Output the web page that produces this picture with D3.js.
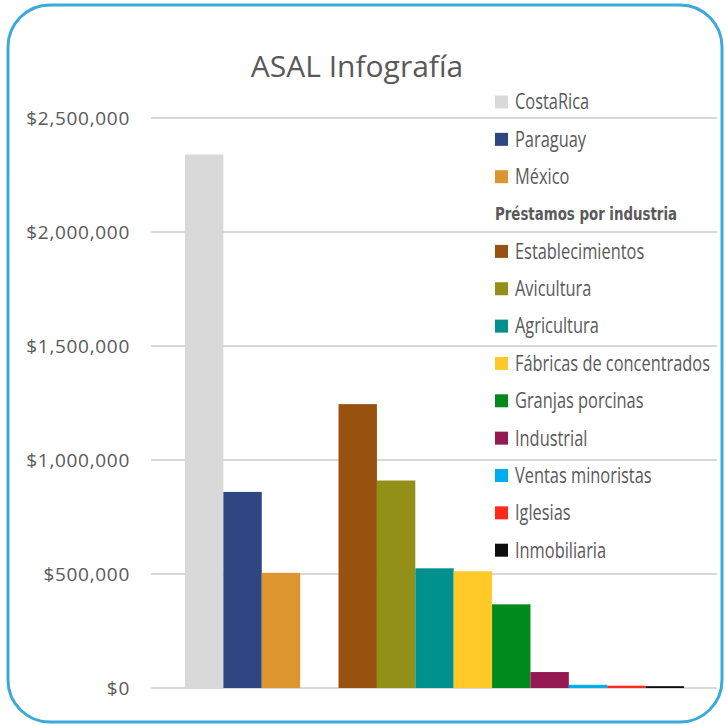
<!DOCTYPE html>
<html><head><meta charset="utf-8">
<script src="https://cdn.jsdelivr.net/npm/d3@7"></script>
<style>body{margin:0;background:#fff}svg{display:block}</style>
</head><body>
<script>
const countries = ["CostaRica","Paraguay","México"];
const countryValues = [2340000, 860000, 505000];
const countryColors = ["#d9d9d9","#2e4682","#dd9530"];
const industries = ["Establecimientos","Avicultura","Agricultura","Fábricas de concentrados","Granjas porcinas","Industrial","Ventas minoristas","Iglesias","Inmobiliaria"];
const industryValues = [1245000, 910000, 525000, 512000, 367000, 70000, 14000, 10000, 8000];
const industryColors = ["#97520f","#939019","#00918f","#ffca28","#008a1c","#951a51","#00aeef","#ff2a1a","#0d0d0d"];
const yTicks = [0, 500000, 1000000, 1500000, 2000000, 2500000];
const title = "ASAL Infografía";
const legendHeading = "Préstamos por industria";

const W = 726, H = 725;
const svg = d3.select("body").append("svg").attr("width", W).attr("height", H);

svg.append("rect").attr("x", 8).attr("y", 5).attr("width", 714).attr("height", 717)
  .attr("rx", 42).attr("ry", 42).attr("fill", "#fff").attr("stroke", "#3ca9dd").attr("stroke-width", 3);

const y = d3.scaleLinear().domain([0, 2500000]).range([688, 118]);

const bars = [];
countries.forEach((c, i) => bars.push({name: c, value: countryValues[i], color: countryColors[i], slot: i}));
industries.forEach((c, i) => bars.push({name: c, value: industryValues[i], color: industryColors[i], slot: i + 4}));

const x = d3.scaleBand().domain(d3.range(13)).range([185, 684]).padding(0);

const yAxis = d3.axisLeft(y).tickValues(yTicks).tickSize(0).tickPadding(0)
  .tickFormat(d => "$" + d3.format(",")(d));
const gAxis = svg.append("g").attr("transform", "translate(130,0)").call(yAxis);
gAxis.select(".domain").remove();
gAxis.selectAll("text").attr("font-family", "Open Sans, sans-serif").attr("font-size", 19)
  .attr("letter-spacing", 0.7).attr("fill", "#595959").attr("dy", "0.35em");

svg.append("g").selectAll("line").data(yTicks).join("line")
  .attr("x1", 151).attr("x2", 717).attr("y1", d => y(d)).attr("y2", d => y(d))
  .attr("stroke", "#d9d9d9").attr("stroke-width", 2);

svg.append("g").selectAll("rect").data(bars).join("rect")
  .attr("x", d => x(d.slot)).attr("width", x.bandwidth())
  .attr("y", d => y(d.value)).attr("height", d => y(0) - y(d.value))
  .attr("fill", d => d.color);

svg.append("text").attr("x", 357).attr("y", 77).attr("text-anchor", "middle")
  .attr("font-family", "Open Sans, sans-serif").attr("font-size", 30).attr("fill", "#595959").text(title);

const legendItems = [];
countries.forEach((c, i) => legendItems.push({type: "item", name: c, color: countryColors[i]}));
legendItems.push({type: "head", name: legendHeading});
industries.forEach((c, i) => legendItems.push({type: "item", name: c, color: industryColors[i]}));

const lg = svg.append("g");
legendItems.forEach((d, i) => {
  const cy = 102 + i * 37.35;
  if (d.type === "head") {
    lg.append("text").attr("x", 495).attr("y", cy).attr("dy", "0.35em")
      .attr("font-family", "DejaVu Sans Condensed, sans-serif").attr("font-weight", "bold")
      .attr("font-size", 18).attr("fill", "#595959").attr("textLength", 182).attr("lengthAdjust", "spacingAndGlyphs").text(d.name);
  } else {
    lg.append("rect").attr("x", 495).attr("y", cy - 6.5).attr("width", 13).attr("height", 13).attr("fill", d.color);
    lg.append("text").attr("transform", `translate(515,${cy}) scale(0.78,1)`).attr("dy", "0.35em")
      .attr("font-family", "Open Sans, sans-serif").attr("font-size", 21).attr("fill", "#595959").text(d.name);
  }
});
</script>
</body></html>
